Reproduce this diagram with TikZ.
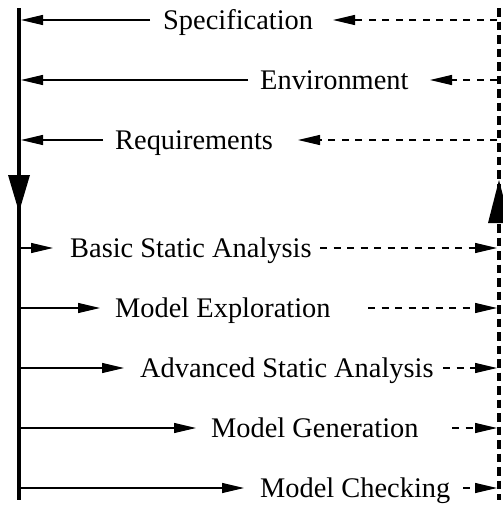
\documentclass[tikz,border=0pt]{standalone}
\usepackage{fontspec}
\setmainfont{Liberation Serif}
\usetikzlibrary{arrows.meta}
\begin{document}
\begin{tikzpicture}[x=1pt,y=-1pt,
  lbl/.style={anchor=west,inner sep=0pt,text height=20pt,text depth=2pt,font=\fontsize{28.4}{34}\selectfont},
  solidarr/.style={line width=1.2pt,-{Triangle[length=22pt,width=10pt]}},
  dasharr/.style={line width=1.2pt,dash pattern=on 7pt off 6.5pt,-{Triangle[length=22pt,width=10pt]}},
  mainline/.style={line width=4pt},
  dashline/.style={line width=4pt,dash pattern=on 8.5pt off 5pt},
  bighead/.style={fill=black}]
\useasboundingbox (0,0) rectangle (503,506);
\clip (0,0) rectangle (503,506);
% main lines
\coordinate (Ltop) at (19,8);
\coordinate (Lbot) at (19,500);
\coordinate (Rtop) at (499,8);
\coordinate (Rbot) at (499,500);
\coordinate (Le) at (21,0);
\coordinate (Re) at (497,0);
\draw[mainline] (Ltop) -- (Lbot);
\draw[dashline] (Rtop) -- (Rbot);
\path[bighead] (8,175) -- (30,175) -- (19,212) -- cycle;
\path[bighead] (488,223) -- (510,223) -- (499,180) -- cycle;
% inputs (leftwards)
\node[lbl] (spec) at (163,20) {Specification};
\draw[solidarr] ([xshift=-13pt]spec.west) -- (spec.west -| Le);
\coordinate (specT) at (333,20);
\draw[dasharr] (specT -| Re) -- (specT);

\node[lbl] (env) at (260,80) {Environment};
\draw[solidarr] ([xshift=-12pt]env.west) -- (env.west -| Le);
\coordinate (envT) at (430,80);
\draw[dasharr] (envT -| Re) -- (envT);

\node[lbl] (req) at (115,140) {Requirements};
\draw[solidarr] ([xshift=-12pt]req.west) -- (req.west -| Le);
\coordinate (reqT) at (298,140);
\draw[dasharr] (reqT -| Re) -- (reqT);
% analyses (rightwards)
\node[lbl] (basic) at (70,248) {Basic Static Analysis};
\draw[solidarr] (basic.west -| Le) -- ([xshift=-17pt]basic.west);
\coordinate (basicS) at (320,248);
\draw[dasharr] (basicS) -- (basicS -| Re);

\node[lbl] (expl) at (115,308) {Model Exploration};
\draw[solidarr] (expl.west -| Le) -- ([xshift=-15pt]expl.west);
\coordinate (explS) at (368,308);
\draw[dasharr] (explS) -- (explS -| Re);

\node[lbl] (adv) at (140,368) {Advanced Static Analysis};
\draw[solidarr] (adv.west -| Le) -- ([xshift=-16pt]adv.west);
\coordinate (advS) at (443,368);
\draw[dasharr] (advS) -- (advS -| Re);

\node[lbl] (gen) at (211,428) {Model Generation};
\draw[solidarr] (gen.west -| Le) -- ([xshift=-15pt]gen.west);
\coordinate (genS) at (452,428);
\draw[dasharr] (genS) -- (genS -| Re);

\node[lbl] (chk) at (260,488) {Model Checking};
\draw[solidarr] (chk.west -| Le) -- ([xshift=-16pt]chk.west);
\coordinate (chkS) at (463,488);
\draw[dasharr] (chkS) -- (chkS -| Re);
\end{tikzpicture}
\end{document}
